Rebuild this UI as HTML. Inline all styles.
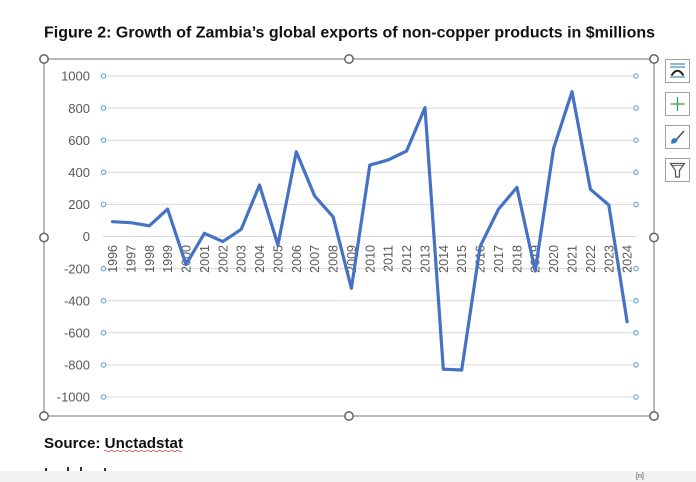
<!DOCTYPE html>
<html>
<head>
<meta charset="utf-8">
<style>
html,body{margin:0;padding:0;background:#fff;}
body{width:696px;height:482px;overflow:hidden;}
svg{display:block;}
</style>
</head>
<body>
<svg width="696" height="482" viewBox="0 0 696 482" xmlns="http://www.w3.org/2000/svg">
  <rect x="0" y="0" width="696" height="482" fill="#fff"/>
  <!-- Title -->
  <text x="44" y="37.5" font-family="Liberation Sans, sans-serif" font-weight="bold" font-size="15.5" fill="#111" textLength="611" lengthAdjust="spacingAndGlyphs">Figure 2: Growth of Zambia’s global exports of non-copper products in $millions</text>

  <!-- Chart frame -->
  <rect x="44" y="59" width="610" height="357" fill="#fff" stroke="#8a8a8a" stroke-width="1.2"/>

  <!-- Gridlines -->
  <g stroke="#d9d9d9" stroke-width="1">
    <line x1="103" y1="76" x2="636" y2="76"/>
    <line x1="103" y1="108.1" x2="636" y2="108.1"/>
    <line x1="103" y1="140.2" x2="636" y2="140.2"/>
    <line x1="103" y1="172.3" x2="636" y2="172.3"/>
    <line x1="103" y1="204.4" x2="636" y2="204.4"/>
    <line x1="103" y1="236.5" x2="636" y2="236.5"/>
    <line x1="103" y1="268.6" x2="636" y2="268.6"/>
    <line x1="103" y1="300.7" x2="636" y2="300.7"/>
    <line x1="103" y1="332.8" x2="636" y2="332.8"/>
    <line x1="103" y1="364.9" x2="636" y2="364.9"/>
    <line x1="103" y1="397" x2="636" y2="397"/>
  </g>
  <!-- Gridline selection dots -->
  <g fill="#fff" stroke="#6aaed6" stroke-width="1.2">
    <circle cx="103.5" cy="76" r="2.2"/><circle cx="636" cy="76" r="2.2"/>
    <circle cx="103.5" cy="108.1" r="2.2"/><circle cx="636" cy="108.1" r="2.2"/>
    <circle cx="103.5" cy="140.2" r="2.2"/><circle cx="636" cy="140.2" r="2.2"/>
    <circle cx="103.5" cy="172.3" r="2.2"/><circle cx="636" cy="172.3" r="2.2"/>
    <circle cx="103.5" cy="204.4" r="2.2"/><circle cx="636" cy="204.4" r="2.2"/>
    <circle cx="103.5" cy="268.6" r="2.2"/><circle cx="636" cy="268.6" r="2.2"/>
    <circle cx="103.5" cy="300.7" r="2.2"/><circle cx="636" cy="300.7" r="2.2"/>
    <circle cx="103.5" cy="332.8" r="2.2"/><circle cx="636" cy="332.8" r="2.2"/>
    <circle cx="103.5" cy="364.9" r="2.2"/><circle cx="636" cy="364.9" r="2.2"/>
    <circle cx="103.5" cy="397" r="2.2"/><circle cx="636" cy="397" r="2.2"/>
  </g>

  <!-- Y labels -->
  <g font-family="Liberation Sans, sans-serif" font-size="13" fill="#595959" text-anchor="end">
    <text x="90" y="80.7">1000</text>
    <text x="90" y="112.8">800</text>
    <text x="90" y="144.9">600</text>
    <text x="90" y="177">400</text>
    <text x="90" y="209.1">200</text>
    <text x="90" y="241.2">0</text>
    <text x="90" y="273.3">-200</text>
    <text x="90" y="305.4">-400</text>
    <text x="90" y="337.5">-600</text>
    <text x="90" y="369.6">-800</text>
    <text x="90" y="401.7">-1000</text>
  </g>

  <!-- X labels (rotated) -->
  <g font-family="Liberation Sans, sans-serif" font-size="12.5" fill="#595959" text-anchor="end">
    <text transform="translate(117,245) rotate(-90)">1996</text>
    <text transform="translate(135.4,245) rotate(-90)">1997</text>
    <text transform="translate(153.8,245) rotate(-90)">1998</text>
    <text transform="translate(172.1,245) rotate(-90)">1999</text>
    <text transform="translate(190.5,245) rotate(-90)">2000</text>
    <text transform="translate(208.9,245) rotate(-90)">2001</text>
    <text transform="translate(227.3,245) rotate(-90)">2002</text>
    <text transform="translate(245.7,245) rotate(-90)">2003</text>
    <text transform="translate(264.0,245) rotate(-90)">2004</text>
    <text transform="translate(282.4,245) rotate(-90)">2005</text>
    <text transform="translate(300.8,245) rotate(-90)">2006</text>
    <text transform="translate(319.2,245) rotate(-90)">2007</text>
    <text transform="translate(337.6,245) rotate(-90)">2008</text>
    <text transform="translate(355.9,245) rotate(-90)">2009</text>
    <text transform="translate(374.3,245) rotate(-90)">2010</text>
    <text transform="translate(392.7,245) rotate(-90)">2011</text>
    <text transform="translate(411.1,245) rotate(-90)">2012</text>
    <text transform="translate(429.5,245) rotate(-90)">2013</text>
    <text transform="translate(447.8,245) rotate(-90)">2014</text>
    <text transform="translate(466.2,245) rotate(-90)">2015</text>
    <text transform="translate(484.6,245) rotate(-90)">2016</text>
    <text transform="translate(503.0,245) rotate(-90)">2017</text>
    <text transform="translate(521.4,245) rotate(-90)">2018</text>
    <text transform="translate(539.7,245) rotate(-90)">2019</text>
    <text transform="translate(558.1,245) rotate(-90)">2020</text>
    <text transform="translate(576.5,245) rotate(-90)">2021</text>
    <text transform="translate(594.9,245) rotate(-90)">2022</text>
    <text transform="translate(613.3,245) rotate(-90)">2023</text>
    <text transform="translate(631.6,245) rotate(-90)">2024</text>
  </g>

  <!-- Series -->
  <polyline fill="none" stroke="#4472c4" stroke-width="3.2" stroke-linejoin="round" stroke-linecap="round"
    points="112.5,221.7 130.9,222.7 149.3,225.8 167.6,209.1 186.0,264.6 204.4,233.3 222.8,241.6 241.2,229.3 259.5,185.0 277.9,245.0 296.3,151.8 314.7,196.1 333.1,216.8 351.4,288.3 369.8,165.1 388.2,159.9 406.6,151.0 425.0,107.6 443.3,369.2 461.7,370.0 480.1,246.6 498.5,209.2 516.9,187.4 535.2,271.0 553.6,148.4 572.0,91.7 590.4,189.3 608.8,205.0 627.1,321.7"/>

  <!-- Frame handles -->
  <g fill="#fff" stroke="#6b6b6b" stroke-width="1.6">
    <circle cx="44" cy="59" r="4.2"/>
    <circle cx="349" cy="59" r="4.2"/>
    <circle cx="654" cy="59" r="4.2"/>
    <circle cx="44" cy="237.5" r="4.2"/>
    <circle cx="654" cy="237.5" r="4.2"/>
    <circle cx="44" cy="416" r="4.2"/>
    <circle cx="349" cy="416" r="4.2"/>
    <circle cx="654" cy="416" r="4.2"/>
  </g>

  <!-- Side buttons -->
  <g fill="#fff" stroke="#a0a0a0" stroke-width="1">
    <rect x="665.5" y="59.5" width="24" height="23"/>
    <rect x="665.5" y="92.5" width="24" height="23"/>
    <rect x="665.5" y="125.5" width="24" height="23"/>
    <rect x="665.5" y="158.5" width="24" height="23"/>
  </g>
  <!-- icon 1: chart elements -->
  <g stroke="#3f8fb0" stroke-width="1.2" fill="none">
    <line x1="670" y1="64" x2="685" y2="64"/>
    <line x1="670" y1="67" x2="685" y2="67"/>
    <line x1="670" y1="77" x2="685" y2="77"/>
  </g>
  <path d="M671.5,75.5 Q677.5,66 683.5,75.5" fill="none" stroke="#222" stroke-width="2"/>
  <!-- icon 2: plus -->
  <g stroke="#3aa04a" stroke-width="1.3">
    <line x1="677.5" y1="97" x2="677.5" y2="111"/>
    <line x1="670.5" y1="104" x2="684.5" y2="104"/>
  </g>
  <!-- icon 3: brush -->
  <line x1="676" y1="140" x2="684" y2="131" stroke="#555" stroke-width="1.6"/>
  <path d="M671,143.5 Q671,138 675,138 L677.5,140.5 Q676,144 671,143.5 Z" fill="#2f78c4"/>
  <!-- icon 4: funnel -->
  <path d="M670.5,163.5 L684.5,163.5 L679.5,170.5 L679.5,177 L675.5,177 L675.5,170.5 Z" fill="none" stroke="#555" stroke-width="1.2"/>
  <line x1="671.5" y1="165.5" x2="683.5" y2="165.5" stroke="#555" stroke-width="0.8"/>

  <!-- Source -->
  <text x="44" y="448" font-family="Liberation Sans, sans-serif" font-weight="bold" font-size="14.5" fill="#111" textLength="139" lengthAdjust="spacingAndGlyphs">Source: Unctadstat</text>
  <path d="M104,451 q1.5,-1.5 3,0 t3,0 t3,0 t3,0 t3,0 t3,0 t3,0 t3,0 t3,0 t3,0 t3,0 t3,0 t3,0 t3,0 t3,0 t3,0 t3,0 t3,0 t3,0 t3,0 t3,0 t3,0 t3,0 t3,0 t3,0 t3,0" fill="none" stroke="#d04040" stroke-width="0.8"/>

  <!-- Bottom band -->
  <rect x="0" y="471" width="696" height="11" fill="#f2f2f2"/>
  <g fill="#333">
    <rect x="45" y="468" width="2" height="3"/>
    <rect x="67" y="467" width="2" height="4"/>
    <rect x="80" y="467" width="2" height="4"/>
    <rect x="104" y="468" width="2" height="3"/>
  </g>
  <text x="636" y="478" font-family="Liberation Sans, sans-serif" font-size="7" fill="#444">[n]</text>
</svg>
</body>
</html>
